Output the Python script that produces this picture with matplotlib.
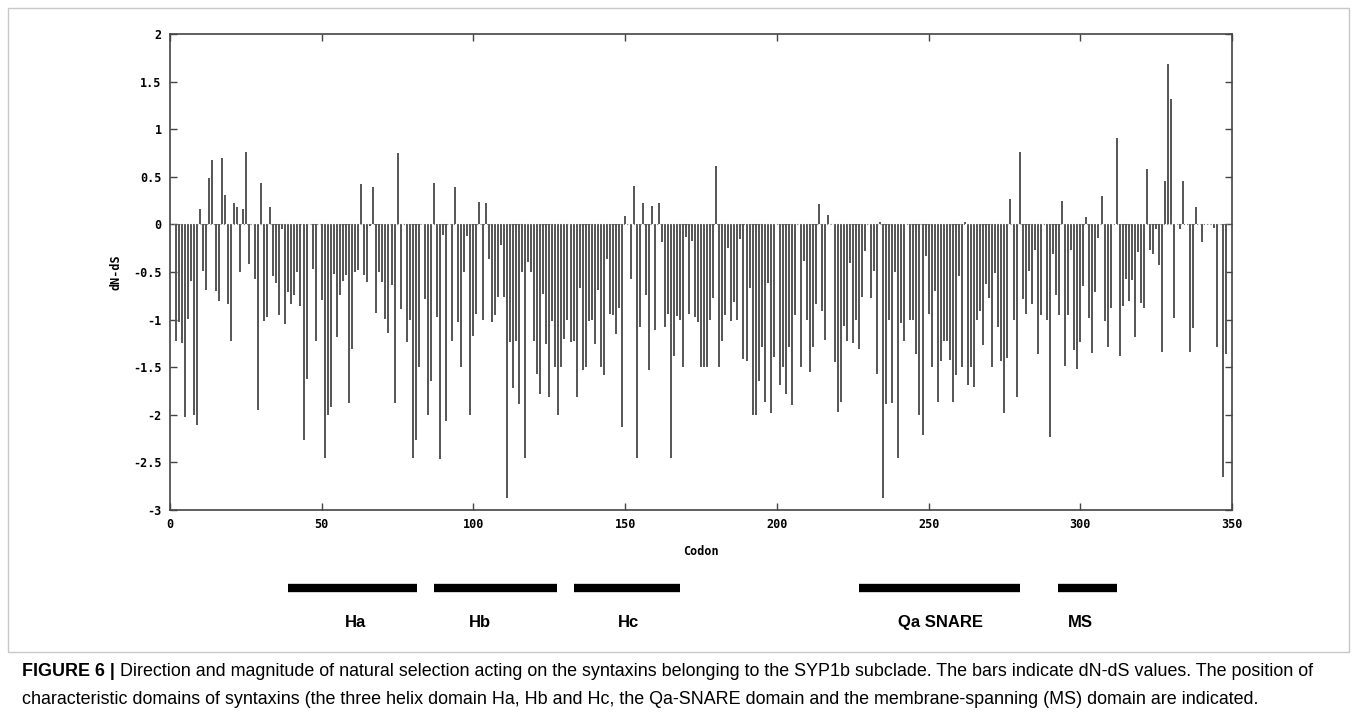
import numpy as np
import matplotlib
matplotlib.use('Agg')
import matplotlib.pyplot as plt
from matplotlib.patches import Rectangle

# ---------------- data ----------------
codon_start = 2
dnds = [
    # 2-23
    -1.22, -1.03, -1.25, -2.02, -0.99, -0.59, -2.0, -2.11, 0.16, -0.49, -0.69,
    0.49, 0.68, -0.70, -0.80, 0.70, 0.31, -0.84, -1.22, 0.22, 0.18, -0.50,
    # 24-56
    0.16, 0.76, -0.42, 0.0, -0.57, -1.95, 0.43, -1.01, -0.97, 0.18, -0.54,
    -0.62, -0.95, -0.05, -1.05, -0.71, -0.84, -0.74, -0.50, -0.86, -2.26, -1.62,
    0.0, -0.47, -1.22, 0.0, -0.79, -2.45, -2.0, -1.92, -0.52, -1.18, -0.74,
    # 57-88
    -0.59, -0.53, -1.88, -1.31, -0.50, -0.48, 0.42, -0.53, -0.60, -0.02, 0.39,
    -0.93, -0.50, -0.60, -0.99, -1.14, -0.64, -1.88, 0.75, -0.89, 0.0, -1.24,
    -1.0, -2.45, -2.26, -1.50, 0.0, -0.78, -2.0, -1.65, 0.43, -0.97,
    # 89-121
    -2.46, -0.11, -2.06, 0.0, -1.22, 0.39, -1.03, -1.50, -0.50, -0.12, -2.0,
    -1.17, -0.94, 0.24, -1.0, 0.23, -0.36, -1.03, -0.95, -0.76, -0.22, -0.76,
    -2.87, -1.24, -1.72, -1.22, -1.89, -0.50, -2.45, -0.40, -0.50, -1.22, -1.57,
    # 122-154
    -1.78, -0.73, -1.26, -1.81, -1.01, -1.50, -2.0, -1.50, -1.20, -1.0, -1.24,
    -1.22, -1.81, -0.67, -1.53, -1.50, -1.01, -1.0, -1.26, -0.69, -1.50, -1.58,
    -0.36, -0.94, -0.95, -1.15, -0.88, -2.13, 0.09, 0.0, -0.57, 0.40, -2.45,
    # 155-187
    -1.08, 0.22, -0.74, -1.53, 0.19, -1.11, 0.22, -0.19, -1.08, -0.94, -2.45,
    -1.38, -0.96, -1.0, -1.50, -0.13, -0.94, -0.17, -0.97, -1.02, -1.50, -1.50,
    -1.50, -1.0, -0.77, 0.61, -1.50, -1.22, -0.95, -0.25, -1.01, -0.81, -1.0,
    # 188-220
    -0.15, -1.41, -1.43, -0.67, -2.0, -2.0, -1.65, -1.29, -1.87, -0.62, -1.98,
    -1.39, 0.0, -1.69, -1.50, -1.78, -1.29, -1.90, -0.95, 0.0, -1.50, -0.38,
    -1.0, -1.55, -1.29, -0.84, 0.21, -0.91, -1.21, 0.10, 0.0, -1.45, -1.97,
    # 221-253
    -1.87, -1.07, -1.22, -0.41, -1.25, -1.0, -1.31, -0.76, -0.28, 0.0, -0.77,
    -0.49, -1.57, 0.02, -2.87, -1.89, -1.0, -1.88, -0.50, -2.45, -1.04, -1.22,
    0.0, -1.0, -1.0, -1.36, -2.0, -2.21, -0.33, -0.94, -1.50, -0.70, -1.87,
    # 254-286
    -1.43, -1.22, -1.22, -1.42, -1.87, -1.58, -0.54, -1.50, 0.02, -1.69, -1.50,
    -1.71, -1.0, -0.91, -1.27, -0.63, -0.77, -1.50, -0.51, -1.08, -1.44, -1.98,
    -1.40, 0.27, -1.0, -1.81, 0.76, -0.78, -0.94, -0.49, -0.84, -0.27, -1.36,
    # 287-319
    -0.95, 0.0, -1.0, -2.23, -0.31, -0.74, -0.95, 0.25, -1.49, -0.95, -0.27,
    -1.32, -1.52, -1.24, -0.65, 0.08, -0.98, -1.35, -0.71, -0.14, 0.30, -1.01,
    -1.29, -0.88, 0.0, 0.91, -1.38, -0.86, -0.57, -0.80, -0.58, -1.18, -0.29,
    # 320-349
    -0.83, -0.88, 0.58, -0.27, -0.31, -0.05, -0.43, -1.34, 0.46, 1.69, 1.32,
    -0.98, 0.0, -0.05, 0.46, 0.0, -1.34, -1.09, 0.18, 0.0, -0.18, 0.0, 0.0,
    0.0, -0.04, -1.29, 0.0, -2.65, -1.36, 0.0,
]
codons = np.arange(codon_start, codon_start + len(dnds))

domain_names = ['Ha', 'Hb', 'Hc', 'Qa SNARE', 'MS']
domain_start = [39, 87, 133, 227, 292.5]
domain_end = [81.5, 127.5, 168, 280, 312]
domain_label_x = [61, 102, 151, 254, 300]

x_ticks = [0, 50, 100, 150, 200, 250, 300, 350]
y_ticks = [-3, -2.5, -2, -1.5, -1, -0.5, 0, 0.5, 1, 1.5, 2]
y_tick_labels = ['-3', '-2.5', '-2', '-1.5', '-1', '-0.5', '0', '0.5', '1', '1.5', '2']

caption_bold = 'FIGURE 6 | '
caption_line1 = ('Direction and magnitude of natural selection acting on the syntaxins belonging to the '
                 'SYP1b subclade. The bars indicate dN-dS values. The position of')
caption_line2 = ('characteristic domains of syntaxins (the three helix domain Ha, Hb and Hc, the '
                 'Qa-SNARE domain and the membrane-spanning (MS) domain are indicated.')

# ---------------- figure ----------------
W, H = 1357, 720
fig = plt.figure(figsize=(W / 100, H / 100), dpi=100)
fig.patch.set_facecolor('white')

# outer light border
fig.add_artist(Rectangle((8 / W, 1 - 652 / H), (1349 - 8) / W, (652 - 8) / H,
                         transform=fig.transFigure, fill=False,
                         edgecolor='#c8c8c8', lw=1.0))

L, R, T, B = 170, 1232, 34, 510
ax = fig.add_axes([L / W, 1 - B / H, (R - L) / W, (B - T) / H])
ax.vlines(codons, 0, dnds, color='#555555', lw=1.4)
ax.axhline(0, color='#777777', lw=0.8, ls=(0, (1, 2)))
ax.set_xlim(0, 350)
ax.set_ylim(-3, 2)

mono = {'family': 'DejaVu Sans Mono', 'weight': 'bold', 'size': 8.5}
ax.set_xticks(x_ticks)
ax.set_xticklabels([str(t) for t in x_ticks], fontdict=mono)
ax.set_yticks(y_ticks)
ax.set_yticklabels(y_tick_labels, fontdict=mono)
ax.tick_params(direction='in', top=True, right=True, length=5, width=1,
               color='#444444', pad=6)
for s in ax.spines.values():
    s.set_color('#444444')
    s.set_linewidth(1.2)
ax.set_xlabel('Codon', fontdict=mono, labelpad=10)
ax.set_ylabel('dN-dS', fontdict=mono)
ax.yaxis.set_label_coords((122 - L) / (R - L), 0.5)

# domain bars
ax2 = fig.add_axes([L / W, 1 - 640 / H, (R - L) / W, 70 / H])
ax2.set_xlim(0, 350)
ax2.set_ylim(0, 1)
ax2.axis('off')
ax2.hlines([0.743] * len(domain_names), domain_start, domain_end,
           color='black', lw=6)
for name, xl in zip(domain_names, domain_label_x):
    ax2.text(xl, 0.257, name, ha='center', va='center',
             family='Liberation Sans', weight='bold', fontsize=12)

# caption
cap_fs = 12.9
t1 = fig.text(22 / W, 1 - 671 / H, caption_bold, family='Liberation Sans',
              weight='bold', fontsize=cap_fs, va='center', ha='left')
ax2.annotate(caption_line1, xy=(1, 0.5), xycoords=t1, va='center', ha='left',
             family='Liberation Sans', fontsize=cap_fs, annotation_clip=False)
fig.text(22 / W, 1 - 700 / H, caption_line2, family='Liberation Sans',
         fontsize=cap_fs, va='center', ha='left')

fig.savefig('out.png', dpi=100, facecolor='white')
